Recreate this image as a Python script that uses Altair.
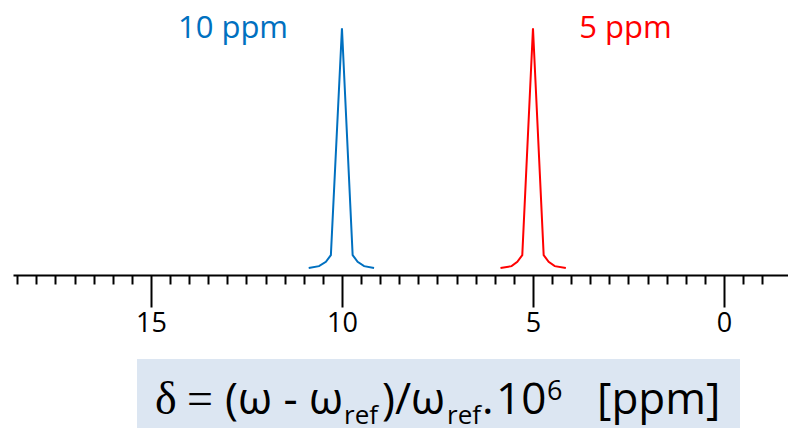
import altair as alt
import pandas as pd

# Chemical shift (ppm) of the points that trace each resonance line
shift_10 = [10.87, 10.60, 10.42, 10.29, 10.00, 9.72, 9.59, 9.42, 9.16]
shift_5 = [5.85, 5.56, 5.41, 5.28, 5.00, 4.72, 4.59, 4.43, 4.14]
# Relative intensity at those points (same line shape for both signals)
intensity_10 = [0.0, 0.008, 0.026, 0.054, 1.0, 0.054, 0.026, 0.008, 0.0]
intensity_5 = [0.0, 0.008, 0.026, 0.054, 1.0, 0.054, 0.026, 0.008, 0.0]

peak_names = ["10 ppm", "5 ppm"]
peak_colors = ["#0070C0", "#FF0000"]

# Scale ticks every 0.5 ppm; labelled ticks every 5 ppm
axis_ticks = [18.5, 18, 17.5, 17, 16.5, 16, 15.5, 15, 14.5, 14, 13.5, 13, 12.5,
              12, 11.5, 11, 10.5, 10, 9.5, 9, 8.5, 8, 7.5, 7, 6.5, 6, 5.5, 5,
              4.5, 4, 3.5, 3, 2.5, 2, 1.5, 1, 0.5, 0, -0.5, -1]
major_labels = [15, 10, 5, 0]

rows = []
for ppm, inten in zip(shift_10, intensity_10):
    rows.append({"ppm": ppm, "intensity": inten, "peak": peak_names[0]})
for ppm, inten in zip(shift_5, intensity_5):
    rows.append({"ppm": ppm, "intensity": inten, "peak": peak_names[1]})
df = pd.DataFrame(rows)

LEFT = 13          # left padding in px
PLOT_W = 775
PLOT_H = 275
FONT = "Open Sans"

major_test = " || ".join(f"datum.value === {v}" for v in major_labels)

x_enc = alt.X(
    "ppm:Q",
    scale=alt.Scale(domain=[18.61, -1.675], nice=False, zero=False),
    axis=alt.Axis(
        values=axis_ticks,
        title=None,
        grid=False,
        domainColor="#000000",
        domainWidth=2,
        tickColor="#000000",
        tickWidth=2,
        tickSize={"condition": {"test": major_test, "value": 32}, "value": 9},
        labelExpr=f"({major_test}) ? format(datum.value, 'd') : ''",
        labelFont=FONT,
        labelFontSize=27,
        labelColor="#000000",
        labelPadding=3,
        labelOverlap=False,
        labelFlush=False,
    ),
)

y_enc = alt.Y(
    "intensity:Q",
    scale=alt.Scale(domain=[-0.029, 1.118], nice=False, zero=False),
    axis=None,
)

spectrum = alt.Chart(df).mark_line(strokeWidth=2).encode(
    x=x_enc,
    y=y_enc,
    color=alt.Color("peak:N",
                    scale=alt.Scale(domain=peak_names, range=peak_colors),
                    legend=None),
)

one = alt.Data(values=[{}])


def text_piece(text, x, y, size, color="#000000", font=FONT, align="left"):
    return alt.Chart(one).mark_text(
        text=text, align=align, baseline="alphabetic",
        font=font, fontSize=size, color=color,
    ).encode(x=alt.value(x - LEFT), y=alt.value(y))


peak_labels = [
    text_piece(peak_names[0], 233, 38, 31, color=peak_colors[0], align="center"),
    text_piece(peak_names[1], 625.5, 38, 31, color=peak_colors[1], align="center"),
]

formula_box = alt.Chart(one).mark_rect(color="#DCE6F2").encode(
    x=alt.value(137 - LEFT), x2=alt.value(740 - LEFT),
    y=alt.value(359), y2=alt.value(430),
)

formula = [
    text_piece("δ", 155, 414, 46, font="Liberation Serif"),
    text_piece("=", 187, 414, 46, font="Liberation Serif"),
    text_piece("(ω - ω", 225, 414, 44),
    text_piece("ref", 344, 424, 26),
    text_piece(")/ω", 382, 414, 44),
    text_piece("ref", 447, 424, 26),
    text_piece(".", 482, 414, 44),
    text_piece("10", 496, 414, 44),
    text_piece("6", 547, 400, 27),
    text_piece("[ppm]", 597, 414, 44),
]

chart = alt.layer(
    formula_box, *formula, *peak_labels, spectrum
).properties(
    width=PLOT_W,
    height=PLOT_H,
    autosize="none",
    padding={"left": LEFT, "top": 0, "right": 0, "bottom": 428 - PLOT_H},
    background="#ffffff",
).configure_view(stroke=None)

chart.save("out.html", embed_options={"renderer": "svg", "actions": False})
